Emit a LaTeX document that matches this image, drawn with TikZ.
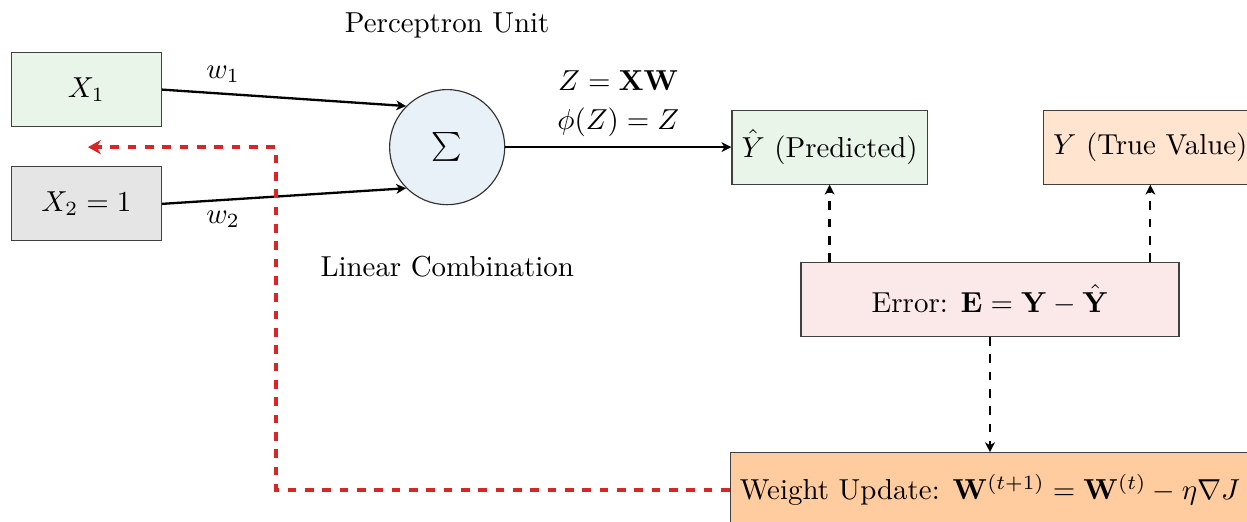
\documentclass[tikz,border=0pt]{standalone}
\usepackage{amsmath}
\usetikzlibrary{positioning}
\usetikzlibrary{calc}
\usetikzlibrary{arrows.meta}

\definecolor{tabblue}{HTML}{1F77B4}
\definecolor{tabgreen}{HTML}{2CA02C}
\definecolor{taborange}{HTML}{FF7F0E}
\definecolor{tabred}{HTML}{D62728}

\tikzset{
  box/.style={rectangle, draw=black!75, minimum height=0.9cm},
  inbox/.style={box, minimum width=1.83cm},
  sumnode/.style={circle, draw=black!80, fill=tabblue!10, minimum size=1.4cm},
  flow/.style={-{Stealth[length=3.4pt, width=3.4pt, inset=1pt]}, thick},
  errflow/.style={flow, dashed},
  feedback/.style={-{Stealth[length=4.5pt, width=5pt]}, very thick, dashed, draw=tabred},
}

\begin{document}
\begin{tikzpicture}

    \useasboundingbox (0,0) rectangle (15.17,-6.35);

    % inputs
    \node[inbox, fill=tabgreen!10] (x1) at (1.05,-1.09) {\(X_1\)};
    \node[inbox, fill=gray!20] (x2) at (1.05,-2.48) {\(X_2 = 1\)};

    % perceptron unit
    \node[sumnode] (sum) at (5.44,-1.79) {\(\sum\)};
    \node[above=0.5 of sum] (sum-title) {Perceptron Unit};
    \node[below=0.5 of sum] (sum-caption) {Linear Combination};
    \draw[flow] (x1.east) -- node[pos=0.25, above] {\(w_1\)} (sum.north west);
    \draw[flow] (x2.east) -- node[pos=0.25, below] {\(w_2\)} (sum.south west);

    % outputs
    \node[box, fill=tabgreen!10, right=2.75 of sum] (yhat) {\(\hat{Y}\) (Predicted)};
    \node[box, fill=taborange!20, right=1.4 of yhat] (ytrue) {\(Y\) (True Value)};
    \draw[flow] (sum.east) -- node[above, align=center] {\(Z = \mathbf{XW}\)\\[1.5pt] \(\phi(Z) = Z\)} (yhat.west);

    % error and update
    \coordinate (y-mid) at ($(yhat.south)!0.5!(ytrue.south)$);
    \node[box, fill=tabred!10, minimum width=4.6cm, below=0.94 of y-mid] (err) {Error: \(\mathbf{E} = \mathbf{Y} - \hat{\mathbf{Y}}\)};
    \draw[errflow] (err.north -| yhat) -- (yhat.south);
    \draw[errflow] (err.north -| ytrue) -- (ytrue.south);
    \node[box, fill=taborange!40, below=1.4 of err] (upd) {Weight Update: \(\mathbf{W}^{(t+1)} = \mathbf{W}^{(t)} - \eta \nabla J\)};
    \draw[errflow] (err.south) -- (err.south |- upd.north);

    % feedback to the weights
    \coordinate (fb-turn) at (3.36,-1.79);
    \coordinate (fb-end) at (1.07,-1.79);
    \draw[feedback] (upd.west) -| (fb-turn) -- (fb-end);

\end{tikzpicture}
\end{document}
